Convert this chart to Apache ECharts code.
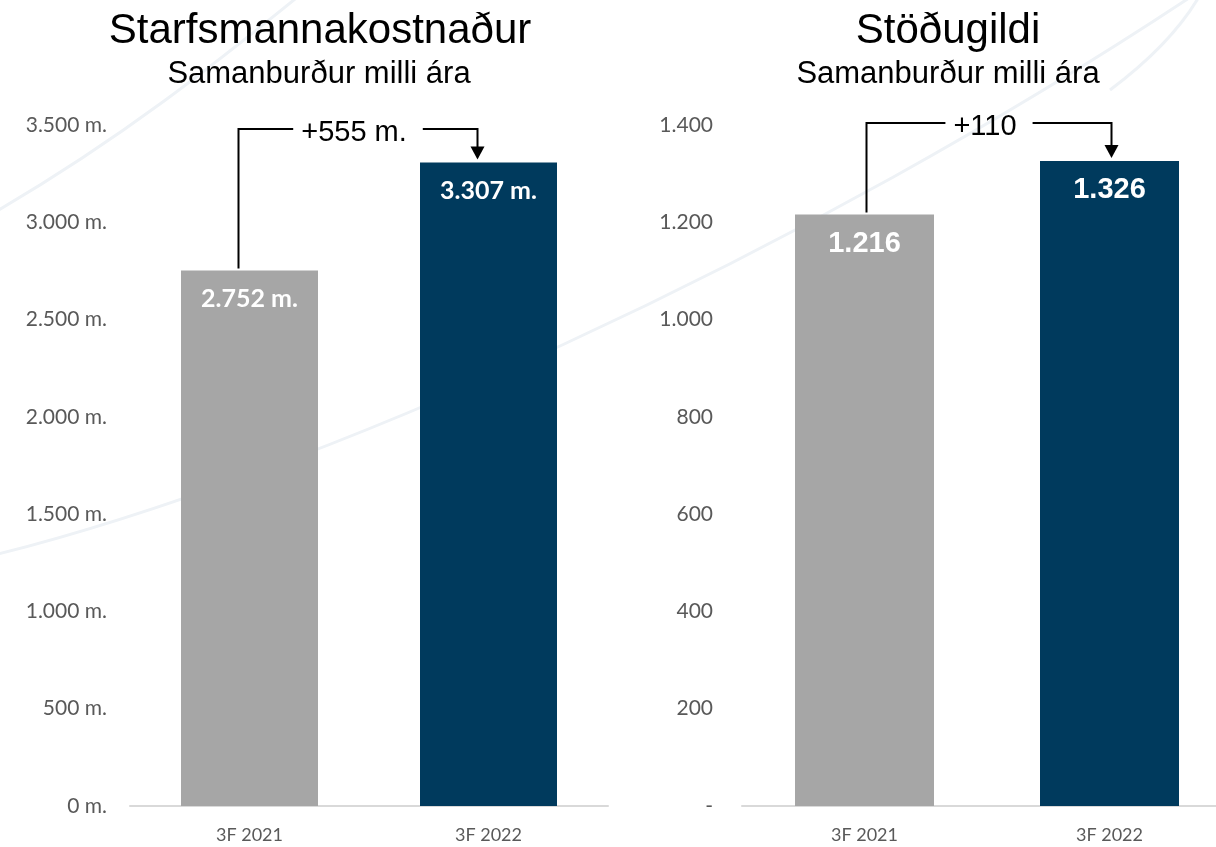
<!DOCTYPE html>
<html>
<head>
<meta charset="utf-8">
<title>Starfsmannakostnaður og stöðugildi</title>
<script src="https://cdn.jsdelivr.net/npm/echarts@6/dist/echarts.min.js"></script>
</head>
<body style="margin:0;background:#fff">
<div id="main" style="width:1216px;height:847px;"></div>
<script>
// --- data ---
var periods = ['3F 2021', '3F 2022'];
var costValues = [2752, 3307];      // m. kr.
var fteValues = [1216, 1326];
var costDiffLabel = '+555 m.';
var fteDiffLabel = '+110';
var costBracketLevel = 3480;        // y value where the bracket runs
var fteBracketLevel = 1404;
var barColors = ['#a6a6a6', '#003a5d'];

var gridFont = 'Lato, "Open Sans", sans-serif';

function isl(n) {
    return String(n).replace(/\B(?=(\d{3})+(?!\d))/g, '.');
}

var measureCtx = document.createElement('canvas').getContext('2d');
function textWidth(txt, font) {
    measureCtx.font = font;
    return measureCtx.measureText(txt).width;
}

function bracketSeries(gridIdx, label, level, values, xShift) {
    var font = '29px Arial';
    var half = textWidth(label, font) / 2 + 12;
    return {
        type: 'custom',
        xAxisIndex: gridIdx,
        yAxisIndex: gridIdx,
        clip: false,
        silent: true,
        z: 5,
        data: [[0, values[0], 1, values[1], level]],
        renderItem: function (params, api) {
            var a = api.coord([api.value(0), api.value(1)]);
            var b = api.coord([api.value(2), api.value(3)]);
            var yl = api.coord([0, api.value(4)])[1];
            var x0 = a[0] + xShift, x1 = b[0] + xShift;
            var mid = (x0 + x1) / 2;
            var tipY = b[1] - 3;
            var st = {stroke: '#000', lineWidth: 2, fill: null};
            return {
                type: 'group',
                children: [
                    {type: 'polyline', shape: {points: [[x0, a[1] - 2], [x0, yl], [mid - half, yl]]}, style: st},
                    {type: 'polyline', shape: {points: [[mid + half, yl], [x1, yl], [x1, tipY - 12]]}, style: st},
                    {type: 'polygon', shape: {points: [[x1 - 7, tipY - 13], [x1 + 7, tipY - 13], [x1, tipY]]}, style: {fill: '#000'}},
                    {type: 'text', x: mid - 4, y: yl + 4, style: {text: label, font: font, fill: '#000', align: 'center', verticalAlign: 'middle'}}
                ]
            };
        }
    };
}

var chart = echarts.init(document.getElementById('main'));

var option = {
    backgroundColor: '#fff',
    animation: false,
    graphic: [
        // faint decorative background curves
        {type: 'bezierCurve', z: -10, shape: {x1: -10, y1: 215, cpx1: 120, cpy1: 140, cpx2: 220, cpy2: 60, x2: 300, y2: -5}, style: {stroke: '#eef2f6', lineWidth: 3, fill: null}},
        {type: 'bezierCurve', z: -10, shape: {x1: -10, y1: 556, cpx1: 300, cpy1: 480, cpx2: 800, cpy2: 260, x2: 1216, y2: -20}, style: {stroke: '#eef2f6', lineWidth: 3, fill: null}},
        {type: 'bezierCurve', z: -10, shape: {x1: 1110, y1: 90, cpx1: 1150, cpy1: 60, cpx2: 1180, cpy2: 30, x2: 1200, y2: -5}, style: {stroke: '#eef2f6', lineWidth: 3, fill: null}},
        // titles
        {type: 'text', x: 320, y: 31, style: {text: 'Starfsmannakostnaður', font: '42px Arial', fill: '#000', align: 'center', verticalAlign: 'middle'}},
        {type: 'text', x: 319, y: 74, style: {text: 'Samanburður milli ára', font: '31px Arial', fill: '#000', align: 'center', verticalAlign: 'middle'}},
        {type: 'text', x: 948, y: 31, style: {text: 'Stöðugildi', font: '42px Arial', fill: '#000', align: 'center', verticalAlign: 'middle'}},
        {type: 'text', x: 948, y: 74, style: {text: 'Samanburður milli ára', font: '31px Arial', fill: '#000', align: 'center', verticalAlign: 'middle'}}
    ],
    grid: [
        {left: 130, width: 478, top: 125, bottom: 41, outerBoundsMode: 'none'},
        {left: 742, width: 490, top: 125, bottom: 41, outerBoundsMode: 'none'}
    ],
    xAxis: [0, 1].map(function (i) {
        return {
            type: 'category',
            gridIndex: i,
            data: periods,
            axisTick: {show: false},
            axisLine: {lineStyle: {color: '#d9d9d9', width: 2}},
            axisLabel: {color: '#595959', fontSize: 18, fontFamily: gridFont, margin: 20}
        };
    }),
    yAxis: [
        {
            type: 'value', gridIndex: 0, min: 0, max: 3500, interval: 500,
            splitLine: {show: false},
            axisLabel: {color: '#595959', fontSize: 21, fontFamily: gridFont, margin: 23,
                formatter: function (v) { return isl(v) + ' m.'; }}
        },
        {
            type: 'value', gridIndex: 1, min: 0, max: 1400, interval: 200,
            splitLine: {show: false},
            axisLabel: {color: '#595959', fontSize: 21, fontFamily: gridFont, margin: 29,
                formatter: function (v) { return v === 0 ? '-' : isl(v); }}
        }
    ],
    series: [
        {
            type: 'bar', xAxisIndex: 0, yAxisIndex: 0, barWidth: 137,
            data: costValues.map(function (v, i) { return {value: v, itemStyle: {color: barColors[i]}}; }),
            label: {show: true, position: 'insideTop', distance: 16, color: '#fff', fontWeight: 'bold',
                fontSize: 25, fontFamily: gridFont,
                formatter: function (p) { return isl(p.value) + ' m.'; }}
        },
        {
            type: 'bar', xAxisIndex: 1, yAxisIndex: 1, barWidth: 139,
            data: fteValues.map(function (v, i) { return {value: v, itemStyle: {color: barColors[i]}}; }),
            label: {show: true, position: 'insideTop', distance: 15, color: '#fff', fontWeight: 'bold',
                fontSize: 29, fontFamily: 'Arial, "Liberation Sans", sans-serif',
                formatter: function (p) { return isl(p.value); }}
        },
        bracketSeries(0, costDiffLabel, costBracketLevel, costValues, -11),
        bracketSeries(1, fteDiffLabel, fteBracketLevel, fteValues, 2)
    ]
};

chart.setOption(option);
</script>
</body>
</html>
